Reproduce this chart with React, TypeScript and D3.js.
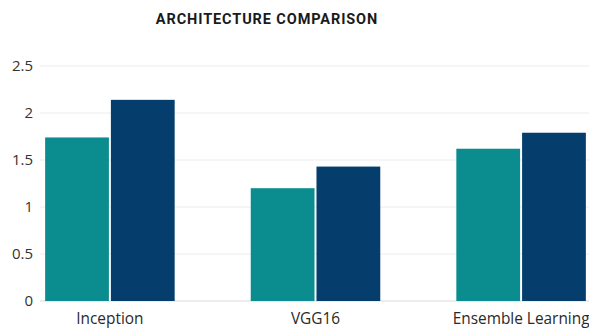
import React from "react";
import * as d3 from "d3";

const categories = ["Inception", "VGG16", "Ensemble Learning"];
const seriesA = [1.74, 1.2, 1.62];
const seriesB = [2.14, 1.43, 1.79];
const yTicks = [0, 0.5, 1, 1.5, 2, 2.5];

const W = 589;
const H = 329;
const colors = ["#0b8d90", "#053e6c"];

export default function App() {
  const x0 = d3.scaleBand<string>().domain(categories).range([40, 591]).paddingInner(0.37).paddingOuter(0.025);
  const x1 = d3.scaleBand<number>().domain([0, 1]).range([0, x0.bandwidth()]).paddingInner(0.03);
  const y = d3.scaleLinear().domain([0, 2.5]).range([301, 66]);
  const series = [seriesA, seriesB];
  return (
    <svg width={W} height={H} style={{ position: "absolute", left: 0, top: 0, background: "#fff" }}>
      <text x={267} y={24} textAnchor="middle" fontFamily="Roboto, sans-serif" fontWeight="bold" fontSize={14.5} letterSpacing={0.9} fill="#1a1a1a">
        ARCHITECTURE COMPARISON
      </text>
      {yTicks.map((t) => (
        <g key={t}>
          <line x1={40} x2={589} y1={y(t)} y2={y(t)} stroke={t === 0 ? "#d9d9d9" : "#ececec"} strokeWidth={1} />
          <text x={33} y={y(t) + 5} textAnchor="end" fontFamily="'Open Sans', sans-serif" fontSize={15} fill="#333">
            {t}
          </text>
        </g>
      ))}
      {categories.map((c, i) => (
        <g key={c} transform={`translate(${x0(c)},0)`}>
          {series.map((s, j) => (
            <rect key={j} x={x1(j)} y={y(s[i])} width={x1.bandwidth()} height={y(0) - y(s[i])} fill={colors[j]} />
          ))}
          <text x={x0.bandwidth() / 2} y={324} textAnchor="middle" fontFamily="'Open Sans', sans-serif" fontSize={15.4} fill="#2a2a2a">
            {c}
          </text>
        </g>
      ))}
    </svg>
  );
}
